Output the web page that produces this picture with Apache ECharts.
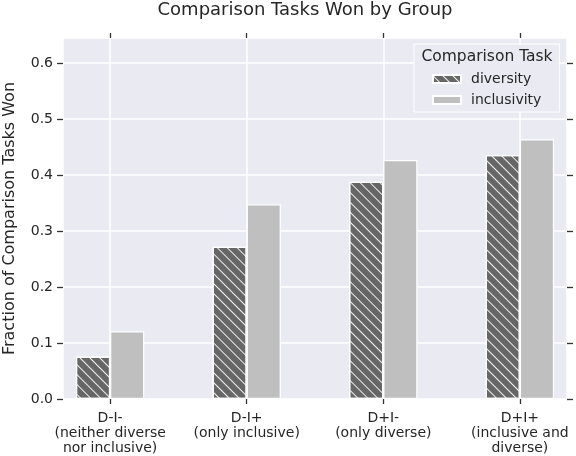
<!DOCTYPE html>
<html>
<head>
<meta charset="utf-8">
<script src="https://cdn.jsdelivr.net/npm/echarts@6/dist/echarts.min.js"></script>
<style>
html,body{margin:0;padding:0;background:#fff;}
#main{width:576px;height:456px;}
</style>
</head>
<body>
<div id="main"></div>
<script>
// 分组名称
var groups = ['D-I-\n(neither diverse\nnor inclusive)', 'D-I+\n(only inclusive)', 'D+I-\n(only diverse)', 'D+I+\n(inclusive and\ndiverse)'];
var seriesNames = ['diversity', 'inclusivity'];
var diversity = [0.076, 0.272, 0.388, 0.436];
var inclusivity = [0.121, 0.348, 0.427, 0.464];
var yTicks = [0, 0.1, 0.2, 0.3, 0.4, 0.5, 0.6];
var xTicks = [0, 1, 2, 3];

var textColor = '#262626';
var font = 'DejaVu Sans';
var xMin = -0.345, xMax = 3.345, yMax = 0.645;
// 隐藏轴线但保留刻度
var hiddenLine = {show: true, onZero: false, lineStyle: {color: 'rgba(0,0,0,0)', width: 0}};

function pairs(arr){
	var out = [];
	for(var i=0;i<arr.length;i++){
		out.push([i, arr[i]]);
	}
	return out;
}

// 只画刻度的辅助轴
function tickAxis(pos, minV, maxV, ticks, len){
	return {
		type: 'value', min: minV, max: maxV, position: pos, offset: 0,
		axisLine: hiddenLine,
		axisTick: {show: true, inside: false, length: len, customValues: ticks, lineStyle: {color: '#333333', width: 1.3}},
		axisLabel: {show: false},
		splitLine: {show: false}
	};
}

var myChart = echarts.init(document.getElementById('main'));

var option = {
	animation: false,
	title: [
		{
			text: 'Comparison Tasks Won by Group',
			left: 305, top: 1, padding: 0,
			textAlign: 'center',
			textStyle: {fontFamily: font, fontSize: 18, fontWeight: 'normal', color: textColor}
		},
		{
			text: 'Comparison Task',
			left: 487, top: 49, padding: 0, z: 10,
			textAlign: 'center',
			textStyle: {fontFamily: font, fontSize: 15.5, fontWeight: 'normal', color: textColor}
		}
	],
	legend: {
		data: seriesNames,
		orient: 'vertical',
		left: 414, top: 44,
		padding: [28, 18, 5, 18],
		itemWidth: 28, itemHeight: 8, itemGap: 7,
		backgroundColor: '#EAEAF2',
		borderColor: '#ffffff', borderWidth: 1,
		icon: 'rect',
		textStyle: {fontFamily: font, fontSize: 14, color: textColor, lineHeight: 14, padding: [0, 0, 0, 5]}
	},
	grid: {
		left: 63, right: 9, top: 38, bottom: 57,
		outerBoundsMode: 'none',
		show: true, backgroundColor: '#EAEAF2', borderWidth: 0
	},
	xAxis: [
		{
			type: 'value', min: xMin, max: xMax,
			axisLine: hiddenLine,
			axisTick: {show: false},
			axisLabel: {
				customValues: xTicks, margin: 12,
				fontFamily: font, fontSize: 14, color: textColor, lineHeight: 15,
				formatter: function(v){ return groups[Math.round(v)]; }
			},
			splitLine: {show: true, lineStyle: {color: '#ffffff', width: 1.5}}
		},
		tickAxis('top', xMin, xMax, xTicks, 5),
		tickAxis('bottom', xMin, xMax, xTicks, 5)
	],
	yAxis: [
		{
			type: 'value', min: 0, max: yMax,
			name: 'Fraction of Comparison Tasks Won',
			nameLocation: 'middle', nameGap: 45,
			nameTextStyle: {fontFamily: font, fontSize: 16, color: textColor},
			axisLine: hiddenLine,
			axisTick: {show: false},
			axisLabel: {
				customValues: yTicks, margin: 10,
				fontFamily: font, fontSize: 14, color: textColor,
				formatter: function(v){ return v.toFixed(1); }
			},
			splitLine: {show: true, lineStyle: {color: '#ffffff', width: 1.5}}
		},
		tickAxis('right', 0, yMax, yTicks, 6),
		tickAxis('left', 0, yMax, yTicks, 6)
	],
	series: [
		{
			name: seriesNames[0],
			type: 'bar',
			barWidth: '25%', barGap: '0%',
			data: pairs(diversity),
			itemStyle: {
				color: '#666666', borderColor: '#ffffff', borderWidth: 1.2,
				decal: {
					symbol: 'rect', symbolSize: 1,
					dashArrayX: [1, 0], dashArrayY: [1, 5.5],
					rotation: Math.PI / 4,
					color: 'rgba(255,255,255,0.9)'
				}
			}
		},
		{
			name: seriesNames[1],
			type: 'bar',
			barWidth: '25%', barGap: '0%',
			data: pairs(inclusivity),
			itemStyle: {color: '#BFBFBF', borderColor: '#ffffff', borderWidth: 1.2}
		}
	]
};

myChart.setOption(option);
</script>
</body>
</html>
